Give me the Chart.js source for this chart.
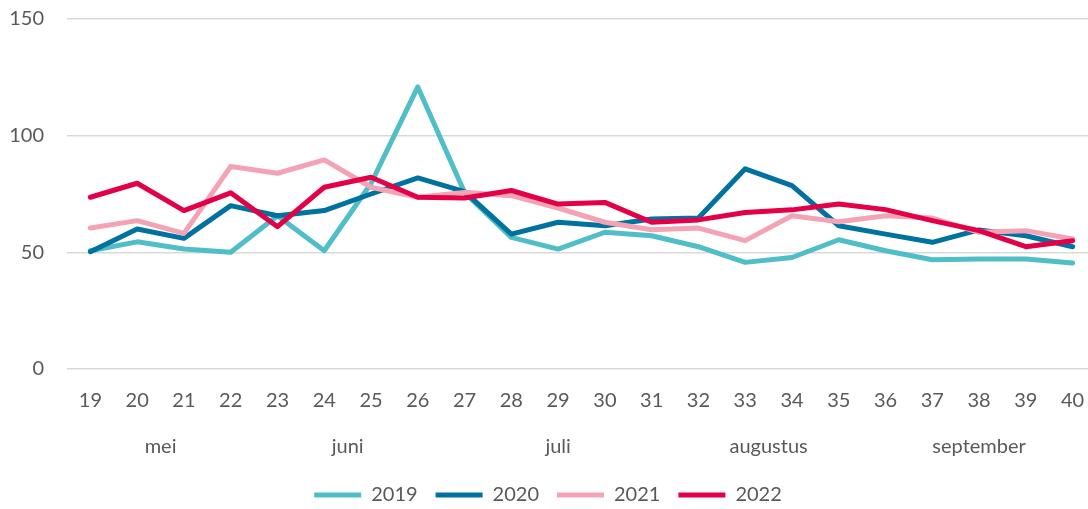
<!DOCTYPE html>
<html>
<head>
<meta charset="utf-8">
<script src="https://cdn.jsdelivr.net/npm/chart.js@4/dist/chart.umd.min.js"></script>
<style>
  html, body { margin: 0; padding: 0; background: #fff; overflow: hidden; }
  #wrap { width: 1096px; height: 509px; }
</style>
</head>
<body>
<div id="wrap"><canvas id="lineChart"></canvas></div>
<script>
// weken en waarden per jaar
const weeks = ['19','20','21','22','23','24','25','26','27','28','29','30','31','32','33','34','35','36','37','38','39','40'];
const data2019 = [50.7, 54.5, 51.4, 50, 65.7, 50.7, 79.5, 120.9, 75.6, 56.4, 51.4, 58.6, 57.1, 52.4, 45.7, 47.8, 55.4, 50.7, 46.8, 47.1, 47.1, 45.4];
const data2020 = [50.3, 60, 56, 70, 65.7, 67.9, 75, 81.9, 76, 57.8, 62.9, 61.4, 64.3, 64.7, 85.8, 78.6, 61.4, 57.8, 54.3, 59.6, 57.1, 52.4];
const data2021 = [60.4, 63.6, 58.1, 86.8, 83.9, 89.6, 77.9, 73.6, 75.7, 74.3, 69, 62.9, 59.7, 60.4, 55, 65.7, 63.1, 65.7, 64.7, 58.6, 59.3, 55.7];
const data2022 = [73.6, 79.6, 67.9, 75.5, 61, 77.9, 82.2, 73.6, 73.3, 76.5, 70.7, 71.4, 62.9, 63.9, 67.1, 68.2, 70.7, 68.3, 63.6, 59.3, 52.4, 55];
// maanden en hun positie (in weekindex)
const months = ['mei', 'juni', 'juli', 'augustus', 'september'];
const monthPos = [1.5, 5.5, 10, 14.5, 19];

const textColor = '#595959';
const fontFamily = 'Lato, "Open Sans", sans-serif';

function line(label, values, color, order) {
  return {
    label: label,
    data: values,
    borderColor: color,
    backgroundColor: color,
    borderWidth: 5,
    borderCapStyle: 'round',
    borderJoinStyle: 'round',
    pointRadius: 0,
    tension: 0,
    order: order,
  };
}

// maandlabels onder de weeknummers
const monthLabels = {
  id: 'monthLabels',
  afterDraw(chart) {
    const ctx = chart.ctx;
    const x = chart.scales.x;
    ctx.save();
    ctx.fillStyle = textColor;
    ctx.font = '20px ' + fontFamily;
    ctx.textAlign = 'center';
    ctx.textBaseline = 'alphabetic';
    months.forEach((m, i) => {
      ctx.fillText(m, x.getPixelForValue(monthPos[i]), 453);
    });
    ctx.restore();
  }
};

let lineCtx = document.getElementById('lineChart');
let lineChart = new Chart(lineCtx, {
  type: 'line',
  data: {
    labels: weeks,
    datasets: [
      line('2019', data2019, '#4FBEC6', 3),
      line('2020', data2020, '#0072A0', 2),
      line('2021', data2021, '#F4A3B4', 1),
      line('2022', data2022, '#E40046', 0),
    ],
  },
  options: {
    responsive: true,
    maintainAspectRatio: false,
    animation: false,
    layout: { padding: { top: 19, left: 0, right: 0, bottom: -6 } },
    plugins: {
      tooltip: { enabled: false },
      legend: {
        position: 'bottom',
        labels: {
          color: textColor,
          font: { family: fontFamily, size: 20 },
          usePointStyle: true,
          pointStyle: 'line',
          pointStyleWidth: 47,
          padding: 18,
          sort: (a, b) => a.datasetIndex - b.datasetIndex,
        },
      },
    },
    scales: {
      x: {
        offset: true,
        grid: { display: false, drawTicks: true, tickLength: 16 },
        border: { display: false },
        ticks: {
          color: textColor,
          font: { family: fontFamily, size: 20 },
          padding: 4,
          maxRotation: 0,
          autoSkip: false,
        },
        afterFit(scale) { scale.height = 98; },
      },
      y: {
        min: 0,
        max: 150,
        border: { display: false },
        grid: { color: '#D9D9D9', lineWidth: 1.5, drawTicks: false },
        ticks: {
          stepSize: 50,
          color: textColor,
          font: { family: fontFamily, size: 20 },
          padding: 23,
        },
        afterFit(scale) {
          scale.width = 67;
          scale.paddingTop = 0;
          scale.paddingBottom = 0;
        },
      },
    },
  },
  plugins: [monthLabels],
});
</script>
</body>
</html>
